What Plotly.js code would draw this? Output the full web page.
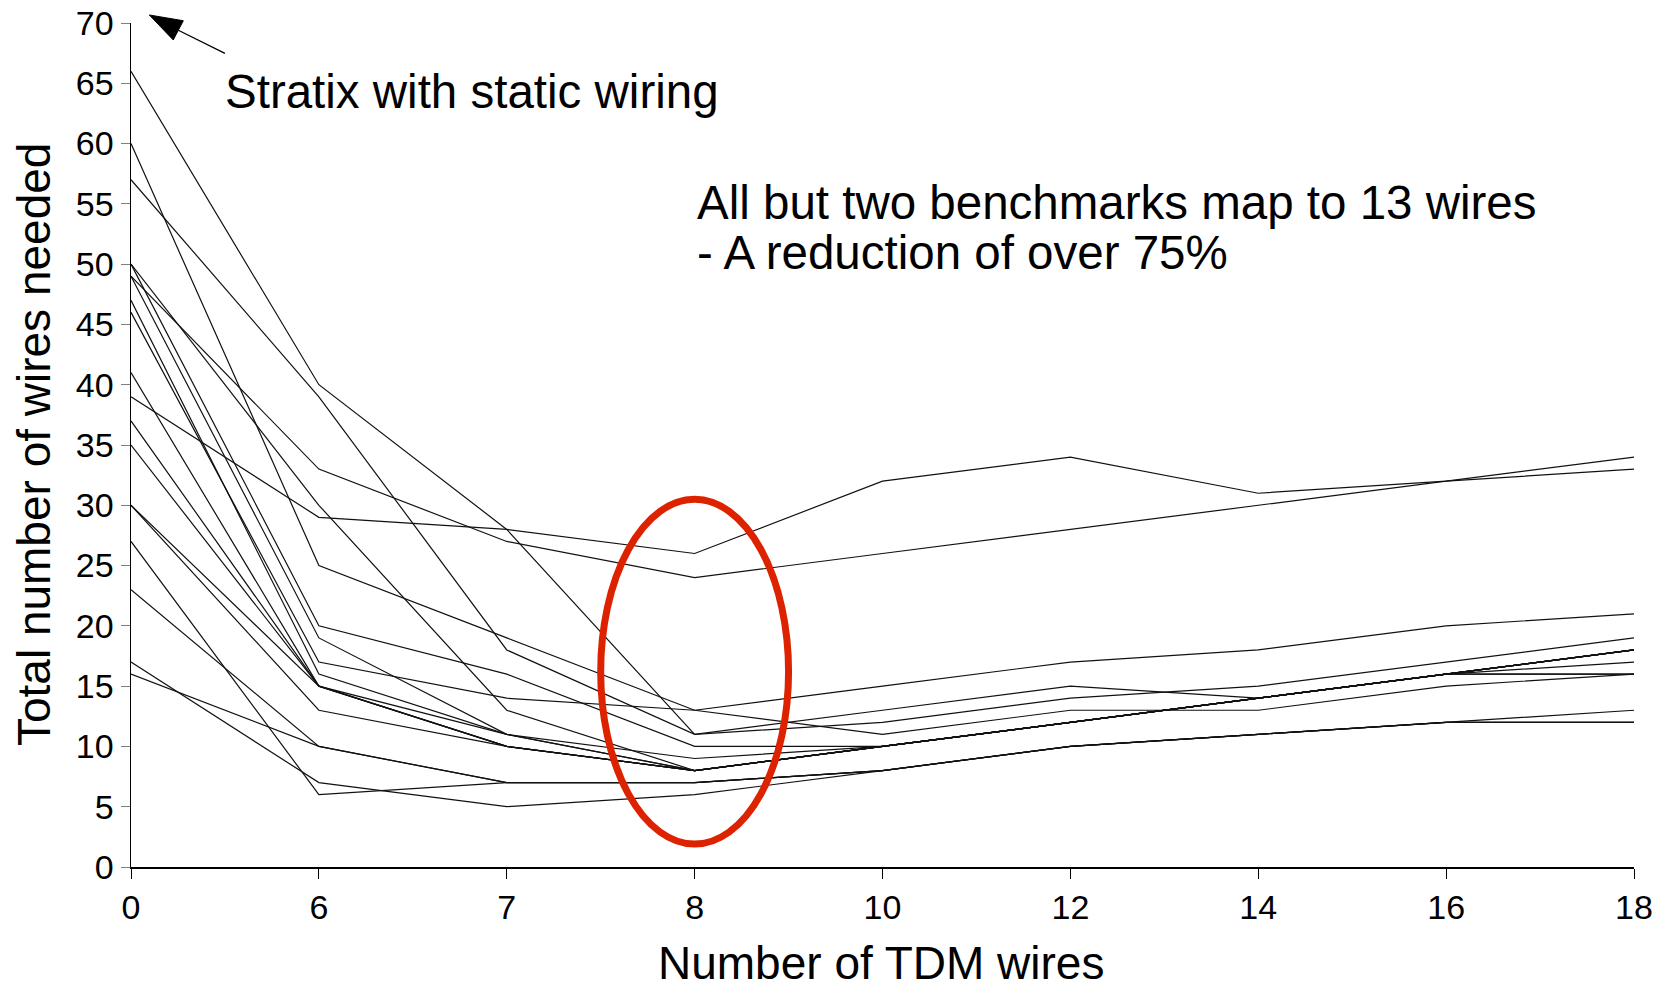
<!DOCTYPE html>
<html>
<head>
<meta charset="utf-8">
<script src="https://cdn.plot.ly/plotly-3.0.1.min.js"></script>
<style>html,body{margin:0;padding:0;background:#fff;}#chart{width:1669px;height:983px;}</style>
</head>
<body>
<div id="chart"></div>
<script>
// TDM wire counts (x categories)
const tdmWires = ['0', '6', '7', '8', '10', '12', '14', '16', '18'];

// Total number of wires needed, one array per benchmark
const bench01 = [66, 40, 28, 11, 13, 15, 14, 16, 18];
const bench02 = [60, 25, 19, 13, 11, 13, 13, 15, 16];
const bench03 = [57, 39, 18, 11, 12, 14, 15, 17, 19];
const bench04 = [50, 30, 13, 8, 10, 12, 14, 16, 18];
const bench05 = [50, 20, 16, 10, 10, 12, 14, 16, 17];
const bench06 = [49, 33, 27, 24, 26, 28, 30, 32, 33];
const bench07 = [49, 19, 11, 8, 10, 12, 14, 16, 18];
const bench08 = [47, 16, 11, 8, 10, 12, 14, 16, 16];
const bench09 = [46, 17, 14, 13, 15, 17, 18, 20, 21];
const bench10 = [41, 15, 11, 9, 10, 12, 14, 16, 18];
const bench11 = [39, 29, 28, 26, 32, 34, 31, 32, 34];
const bench12 = [37, 15, 10, 8, 10, 12, 14, 16, 18];
const bench13 = [35, 15, 10, 8, 10, 12, 14, 16, 18];
const bench14 = [30, 15, 10, 8, 10, 12, 14, 16, 16];
const bench15 = [30, 13, 10, 8, 10, 12, 14, 16, 18];
const bench16 = [27, 6, 7, 7, 8, 10, 11, 12, 12];
const bench17 = [23, 10, 7, 7, 8, 10, 11, 12, 12];
const bench18 = [17, 7, 5, 6, 8, 10, 11, 12, 13];
const bench19 = [16, 10, 7, 7, 8, 10, 11, 12, 12];

const allBenchmarks = [bench01, bench02, bench03, bench04, bench05, bench06, bench07, bench08, bench09, bench10,
  bench11, bench12, bench13, bench14, bench15, bench16, bench17, bench18, bench19];

const yTicks = [0, 5, 10, 15, 20, 25, 30, 35, 40, 45, 50, 55, 60, 65, 70];

const FONT = 'Liberation Sans, Arial, sans-serif';

const traces = allBenchmarks.map((vals, i) => ({
  type: 'scatter',
  mode: 'lines',
  x: tdmWires,
  y: vals,
  name: 'Benchmark ' + (i + 1),
  line: {color: '#111111', width: 1.2},
  hoverinfo: 'x+y'
}));

const layout = {
  width: 1669,
  height: 983,
  margin: {l: 131, r: 35, t: 23, b: 116},
  paper_bgcolor: '#ffffff',
  plot_bgcolor: '#ffffff',
  showlegend: false,
  font: {family: FONT, color: '#000000', size: 34},
  xaxis: {
    type: 'category',
    categoryorder: 'array',
    categoryarray: tdmWires,
    range: [0, tdmWires.length - 1],
    showgrid: false,
    zeroline: false,
    showline: true,
    linecolor: '#000000',
    linewidth: 1.5,
    ticks: 'outside',
    ticklen: 10,
    tickwidth: 1,
    tickcolor: '#000000',
    tickfont: {family: FONT, size: 34, color: '#000000'},
    automargin: false
  },
  yaxis: {
    range: [0, 70],
    tickvals: yTicks,
    showgrid: false,
    zeroline: false,
    showline: true,
    linecolor: '#000000',
    linewidth: 1.5,
    ticks: 'outside',
    ticklen: 9,
    tickwidth: 1,
    tickcolor: '#808080',
    tickfont: {family: FONT, size: 34, color: '#000000'},
    automargin: false
  },
  shapes: [
    {
      type: 'circle',
      xref: 'x', yref: 'y',
      x0: 2.5, x1: 3.5,
      y0: 1.9, y1: 30.5,
      line: {color: '#dd2200', width: 7},
      fillcolor: 'rgba(0,0,0,0)'
    },
    // arrow shaft
    {
      type: 'line', xref: 'paper', yref: 'paper',
      x0: 0.0315, y0: 0.9914, x1: 0.0625, y1: 0.9641,
      line: {color: '#000000', width: 1.3}
    },
    // arrow head
    {
      type: 'path', xref: 'paper', yref: 'paper',
      path: 'M 0.0122 1.0095 L 0.0348 1.0027 L 0.0281 0.9799 Z',
      fillcolor: '#000000',
      line: {color: '#000000', width: 1}
    }
  ],
  annotations: [
    {
      xref: 'paper', yref: 'paper', x: 0.499, y: -0.1137, xanchor: 'center', yanchor: 'middle',
      text: 'Number of TDM wires', showarrow: false,
      font: {family: FONT, size: 46, color: '#000000'}
    },
    {
      xref: 'paper', yref: 'paper', x: -0.0645, y: 0.5, xanchor: 'center', yanchor: 'middle',
      text: 'Total number of wires needed', showarrow: false, textangle: -90,
      font: {family: FONT, size: 46, color: '#000000'}
    },
    {
      xref: 'paper', yref: 'paper', x: 0.061, y: 0.919, xanchor: 'left', yanchor: 'middle',
      text: 'Stratix with static wiring', showarrow: false,
      font: {family: FONT, size: 47.5, color: '#000000'}
    },
    {
      xref: 'paper', yref: 'paper', x: 0.375, y: 0.787, xanchor: 'left', yanchor: 'middle',
      text: 'All but two benchmarks map to 13 wires', showarrow: false,
      font: {family: FONT, size: 47.5, color: '#000000'}
    },
    {
      xref: 'paper', yref: 'paper', x: 0.375, y: 0.728, xanchor: 'left', yanchor: 'middle',
      text: '- A reduction of over 75%', showarrow: false,
      font: {family: FONT, size: 47.5, color: '#000000'}
    }
  ]
};

Plotly.newPlot('chart', traces, layout, {displayModeBar: false, staticPlot: true});
</script>
</body>
</html>
